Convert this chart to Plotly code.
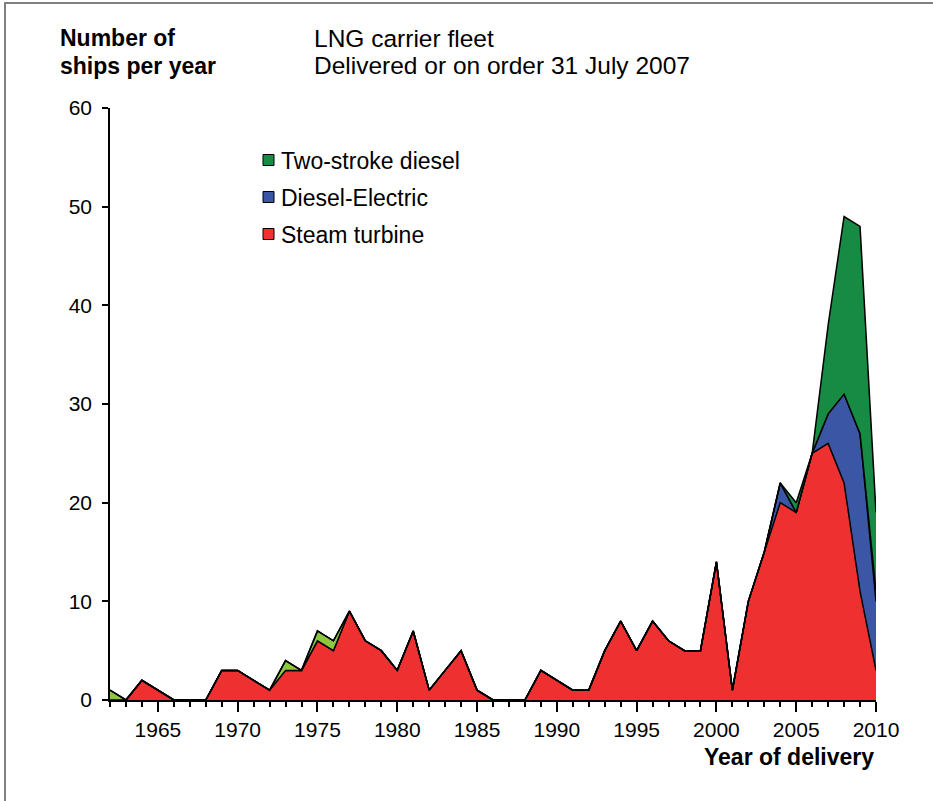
import plotly.graph_objects as go

years = list(range(1962, 2011))
steam_turbine = [0, 0, 2, 1, 0, 0, 0, 3, 3, 2, 1, 3, 3, 6, 5, 9, 6, 5, 3, 7,
                 1, 3, 5, 1, 0, 0, 0, 3, 2, 1, 1, 5, 8, 5, 8, 6, 5, 5, 14, 1,
                 10, 15, 20, 19, 25, 26, 22, 11, 3]
diesel_electric = [0] * 42 + [2, 0, 0, 3, 9, 16, 7]
other = [0] * 49
for yr in (1962, 1973, 1975, 1976, 2010):
    other[yr - 1962] = 1
two_stroke = [0] * 43 + [1, 0, 9, 18, 21, 8]

legend_names = ["Two-stroke diesel", "Diesel-Electric", "Steam turbine"]

FONT = "Liberation Sans, Arial, sans-serif"
RED = "#EE3130"
BLUE = "#3B56A5"
DGREEN = "#178A43"
LGREEN = "#8DC63F"
legend_colors = [DGREEN, BLUE, RED]

# plot area in pixels
L, R, T, B = 110, 876, 108, 700
PW, PH = R - L, B - T


def px(x):
    return (x - L) / PW


def py(y):
    return (B - y) / PH


fig = go.Figure()
for name, vals, col in [("Steam turbine", steam_turbine, RED),
                        ("Diesel-Electric", diesel_electric, BLUE),
                        ("Other", other, LGREEN),
                        ("Two-stroke diesel", two_stroke, DGREEN)]:
    fig.add_trace(go.Scatter(x=years, y=vals, stackgroup="one", mode="lines",
                             fillcolor=col, line=dict(color="black", width=1.5),
                             name=name, showlegend=False, hoverinfo="x+y+name"))

annotations = [
    dict(text="<b>Number of</b>", x=px(58), y=py(38), size=23),
    dict(text="<b>ships per year</b>", x=px(58), y=py(66), size=23),
    dict(text="LNG carrier fleet", x=px(312), y=py(38), size=24.5),
    dict(text="Delivered or on order 31 July 2007", x=px(312), y=py(66), size=24.5),
]
for a in annotations:
    s = a.pop("size")
    a.update(xref="paper", yref="paper", xanchor="left", yanchor="middle",
             showarrow=False, font=dict(size=s, family=FONT))
annotations.append(dict(text="<b>Year of delivery</b>", xref="paper", yref="paper",
                        x=1.0, y=py(757), xanchor="right", yanchor="middle",
                        showarrow=False, font=dict(size=23, family=FONT)))

shapes = [dict(type="rect", xref="paper", yref="paper",
               x0=px(5), x1=px(945), y0=py(815), y1=py(3),
               line=dict(color="#808080", width=2), layer="below")]

leg_y = [160, 197, 234]
for name, col, yy in zip(legend_names, legend_colors, leg_y):
    shapes.append(dict(type="rect", xref="paper", yref="paper",
                       x0=px(263), x1=px(274), y0=py(yy + 5.5), y1=py(yy - 5.5),
                       fillcolor=col, line=dict(color="black", width=1)))
    annotations.append(dict(text=name, xref="paper", yref="paper",
                            x=px(279), y=py(yy + 1), xanchor="left", yanchor="middle",
                            showarrow=False, font=dict(size=23, family=FONT)))

fig.update_layout(
    width=933, height=801,
    margin=dict(l=L, r=933 - R, t=T, b=801 - B),
    paper_bgcolor="white", plot_bgcolor="white",
    font=dict(family=FONT, size=21, color="black"),
    showlegend=False,
    xaxis=dict(range=[1962, 2010], showgrid=False, zeroline=False,
               showline=True, linecolor="black", linewidth=1.5,
               ticks="outside", tick0=1965, dtick=5, ticklen=10, tickwidth=1.5,
               tickcolor="black", tickfont=dict(size=21, family=FONT),
               minor=dict(dtick=1, tick0=1962, ticks="outside", ticklen=5,
                          tickwidth=1.5, tickcolor="black")),
    yaxis=dict(range=[0, 60], showgrid=False, zeroline=False,
               showline=True, linecolor="black", linewidth=1.5,
               ticks="outside", dtick=10, ticklen=6, tickwidth=1.5,
               tickcolor="black", tickfont=dict(size=21, family=FONT),
               ticklabelstandoff=6),
    annotations=annotations,
    shapes=shapes,
)

fig.write_html("out.html", config={"displayModeBar": False},
               post_script="document.body.style.margin='0';")
